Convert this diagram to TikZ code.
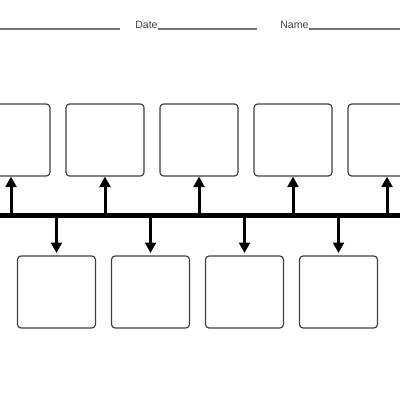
\documentclass[tikz,border=0pt]{standalone}
\usepackage{fontspec}
\setmainfont{Liberation Sans}
\usetikzlibrary{arrows.meta,positioning}

\begin{document}
\begin{tikzpicture}[x=0.25mm, y=-0.25mm,
  event/.style={draw=black!75, line width=0.3mm, rounded corners=0.9mm, minimum width=19.5mm, minimum height=18mm},
  stem/.style={line width=0.75mm, -{Triangle[length=2.6mm,width=2.7mm]}},
  blank/.style={draw=black!55, line width=0.3mm},
  head/.style={font=\fontsize{7.5}{8}\selectfont, text=black!75, anchor=base west, inner sep=0pt}]
\useasboundingbox (0,0) rectangle (400,400);

% header
\coordinate (h0) at (0,29);
\coordinate (h1) at (120,29);
\node[head] (date) at (135,28) {Date};
\coordinate (h2) at (257,29);
\node[head] (name) at (280,28) {Name};
\coordinate (h3) at (400,29);
\draw[blank] (h0) -- (h1);
\draw[blank] (date.base east |- h2) -- (h2);
\draw[blank] (name.base east |- h3) -- (h3);

% top row
\node[event] (t1) at (11,140) {};
\node[event, right=3.7mm of t1] (t2) {};
\node[event, right=3.7mm of t2] (t3) {};
\node[event, right=3.7mm of t3] (t4) {};
\node[event, right=3.7mm of t4] (t5) {};

% bottom row
\node[event] (b1) at (56.5,292) {};
\node[event, right=3.7mm of b1] (b2) {};
\node[event, right=3.7mm of b2] (b3) {};
\node[event, right=3.7mm of b3] (b4) {};

% timeline
\coordinate (tl-w) at (-5,215.5);
\coordinate (tl-e) at (405,215.5);
\draw[line width=1.15mm] (tl-w) -- (tl-e);

% arrows up
\draw[stem] (t1.south |- tl-w) -- (t1.south);
\draw[stem] (t2.south |- tl-w) -- (t2.south);
\draw[stem] (t3.south |- tl-w) -- (t3.south);
\draw[stem] (t4.south |- tl-w) -- (t4.south);
\draw[stem] (t5.south |- tl-w) -- (t5.south);

% arrows down
\draw[stem, shorten >=0.6mm] (b1.north |- tl-w) -- (b1.north);
\draw[stem, shorten >=0.6mm] (b2.north |- tl-w) -- (b2.north);
\draw[stem, shorten >=0.6mm] (b3.north |- tl-w) -- (b3.north);
\draw[stem, shorten >=0.6mm] (b4.north |- tl-w) -- (b4.north);
\end{tikzpicture}
\end{document}
